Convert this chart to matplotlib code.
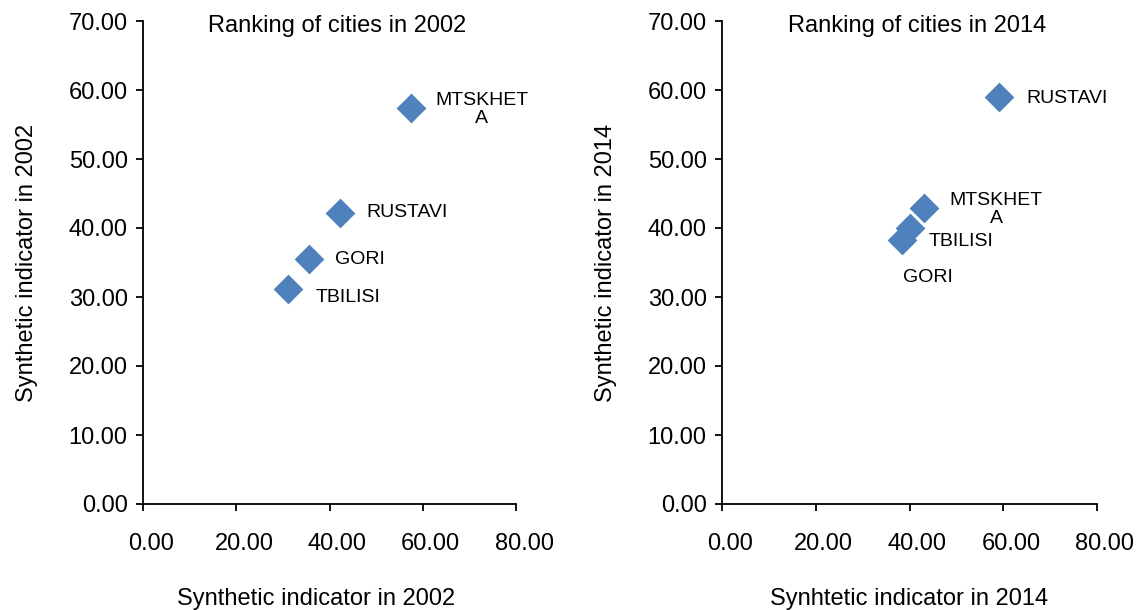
import matplotlib
matplotlib.use("Agg")
import matplotlib.pyplot as plt
from matplotlib.transforms import ScaledTranslation

plt.rcParams['font.family'] = ['Liberation Sans', 'DejaVu Sans']

cities_2002 = ["MTSKHET\nA", "RUSTAVI", "GORI", "TBILISI"]
x_2002 = [57.4, 42.2, 35.6, 31.1]
y_2002 = [57.4, 42.2, 35.5, 31.2]

cities_2014 = ["RUSTAVI", "MTSKHET\nA", "TBILISI", "GORI"]
x_2014 = [59.0, 43.1, 40.0, 38.5]
y_2014 = [59.0, 42.9, 40.0, 38.3]

ticks_x = [0, 20, 40, 60, 80]
ticks_y = [0, 10, 20, 30, 40, 50, 60, 70]

color = '#4F81BD'

fig = plt.figure(figsize=(11.39, 6.10), dpi=100)
ax1 = fig.add_axes([143/1139, 1-504/610, (516-143)/1139, (504-21)/610])
ax2 = fig.add_axes([722/1139, 1-504/610, (1097-722)/1139, (504-21)/610])

# label offsets in points (dx, dy, ha) relative to the marker
off_2002 = [(51, -1, 'center'), (19, 0, 'left'), (19, 0, 'left'), (20, -6, 'left')]
off_2014 = [(20, -1, 'left'), (52, -1, 'center'), (14, -10, 'left'), (18, -27, 'center')]

def setup(ax, xs, ys, names, offs, title, xlabel, ylabel, xlabel_x):
    ax.scatter(xs, ys, marker='D', s=230, color=color, zorder=3, linewidths=0)
    for x, y, n, (dx, dy, ha) in zip(xs, ys, names, offs):
        ax.annotate(n, (x, y), xytext=(dx, dy), textcoords='offset points',
                    ha=ha, va='center', ma='center', fontsize=14, linespacing=1.1)
    ax.set_xlim(0, 80)
    ax.set_ylim(0, 70)
    ax.set_xticks(ticks_x)
    ax.set_yticks(ticks_y)
    ax.set_xticklabels([f"{t:.2f}" for t in ticks_x])
    ax.set_yticklabels([f"{t:.2f}" for t in ticks_y])
    for s in ['top', 'right']:
        ax.spines[s].set_visible(False)
    for s in ['left', 'bottom']:
        ax.spines[s].set_linewidth(1.3)
    ax.tick_params(axis='both', direction='out', length=5, width=1.3, labelsize=17, colors='black')
    ax.tick_params(axis='x', pad=16)
    ax.tick_params(axis='y', pad=6)
    for lab in ax.get_xticklabels():
        lab.set_transform(lab.get_transform() + ScaledTranslation(8/100, 0, fig.dpi_scale_trans))
    ax.text(0.52, 0.99, title, transform=ax.transAxes, ha='center', va='center', fontsize=17)
    ax.set_xlabel(xlabel, fontsize=17, labelpad=24)
    ax.xaxis.label.set_x(xlabel_x)
    ax.set_ylabel(ylabel, fontsize=17, labelpad=22)

setup(ax1, x_2002, y_2002, cities_2002, off_2002, "Ranking of cities in 2002",
      "Synthetic indicator in 2002", "Synthetic indicator in 2002", 0.464)
setup(ax2, x_2014, y_2014, cities_2014, off_2014, "Ranking of cities in 2014",
      "Synhtetic indicator in 2014", "Synthetic indicator in 2014", 0.5)

fig.savefig("out.png", dpi=100)
